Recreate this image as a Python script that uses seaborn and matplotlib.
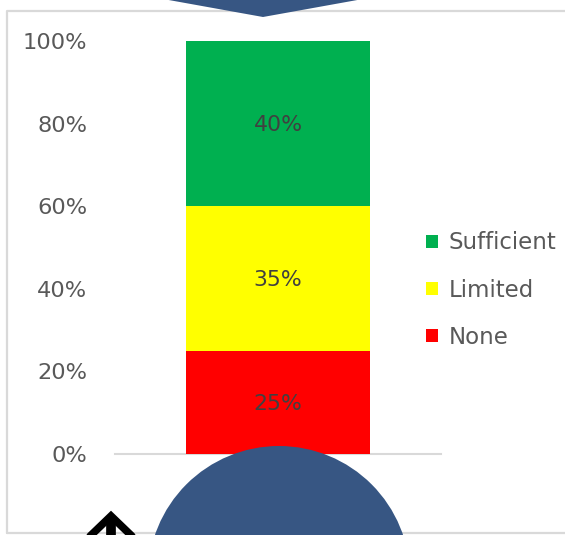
import matplotlib
matplotlib.use("Agg")
import matplotlib.pyplot as plt
from matplotlib.patches import Polygon, Circle
from matplotlib.lines import Line2D
from matplotlib.patches import Patch
import seaborn as sns
import pandas as pd
import numpy as np

# ---- data ----
categories = ["None", "Limited", "Sufficient"]
values = [0.25, 0.35, 0.40]
colors = ["#FF0000", "#FFFF00", "#00B050"]
yticks = [0.0, 0.2, 0.4, 0.6, 0.8, 1.0]
ytick_labels = ["0%", "20%", "40%", "60%", "80%", "100%"]
label_texts = ["25%", "35%", "40%"]

sns.set_theme(style="white")
plt.rcParams["font.family"] = ["DejaVu Sans"]

W, H = 565, 535
fig = plt.figure(figsize=(W / 100, H / 100), dpi=100)
fig.patch.set_facecolor("white")

def fx(px):
    return px / W

def fy(py):
    return 1 - py / H

ax_left, ax_right, ax_top, ax_bottom = 115, 441, 41, 454
ax = fig.add_axes([fx(ax_left), fy(ax_bottom), fx(ax_right - ax_left), (ax_bottom - ax_top) / H])

cum = np.cumsum(values)
# draw stacked bars from the tallest cumulative down
for i in range(len(values) - 1, -1, -1):
    df = pd.DataFrame({"g": ["All"], "v": [cum[i]]})
    sns.barplot(data=df, x="g", y="v", color=colors[i], width=0.567,
                saturation=1, ax=ax, zorder=2, linewidth=0)

bottoms = np.concatenate([[0], cum[:-1]])
for i, v in enumerate(values):
    ax.text(0, bottoms[i] + v / 2 - 0.004, label_texts[i], ha="center", va="center",
            fontsize=15.8, color="#404040", zorder=3)

ax.set_xlim(-0.5, 0.5)
ax.set_ylim(0, 1)
ax.set_yticks(yticks)
ax.set_yticklabels(ytick_labels, fontsize=16.2, color="#595959")
ax.tick_params(axis="y", length=0, pad=20)
ax.set_xticks([])
ax.set_xlabel("")
ax.set_ylabel("")
for s in ["top", "right", "left"]:
    ax.spines[s].set_visible(False)
ax.spines["bottom"].set_color("#D9D9D9")
ax.spines["bottom"].set_linewidth(1.5)
ax.spines["bottom"].set_zorder(1)
ax.patch.set_alpha(0)

# legend (Sufficient on top)
handles = [Patch(facecolor=colors[i], edgecolor="none", label=categories[i])
           for i in range(len(categories) - 1, -1, -1)]
leg = fig.legend(handles=handles, loc="upper left",
                 bbox_to_anchor=(fx(408), fy(213)), frameon=False,
                 fontsize=16.5, labelcolor="#595959",
                 handlelength=0.52, handleheight=0.52, handletextpad=0.45,
                 labelspacing=1.06, borderpad=0.3)

# chart border
tr = fig.dpi_scale_trans
fig.add_artist(Line2D([7 / 100, 7 / 100, 600 / 100], [(H - 533) / 100, (H - 11) / 100, (H - 11) / 100],
                      transform=tr, color="#D9D9D9", linewidth=1.6, zorder=5))
fig.add_artist(Line2D([7 / 100, 600 / 100], [(H - 533) / 100, (H - 533) / 100],
                      transform=tr, color="#D9D9D9", linewidth=1.6, zorder=5))

shape_blue = "#375683"
# top triangle
tri = Polygon([[152 / 100, (H + 3) / 100], [263 / 100, (H - 17) / 100], [374 / 100, (H + 3) / 100]],
              closed=True, transform=tr, facecolor=shape_blue, edgecolor="none", zorder=10)
fig.add_artist(tri)

# bottom circle
circ = Circle((279 / 100, (H - 577) / 100), 131 / 100, transform=tr,
              facecolor=shape_blue, edgecolor="none", zorder=10)
fig.add_artist(circ)

# arrow outline bottom-left
fig.add_artist(Line2D([85 / 100, 111 / 100, 137 / 100], [(H - 541) / 100, (H - 516) / 100, (H - 541) / 100],
                      transform=tr, color="black", linewidth=5.5, solid_joinstyle="miter", zorder=11))
fig.add_artist(Line2D([111 / 100, 111 / 100], [(H - 525) / 100, (H - 545) / 100],
                      transform=tr, color="black", linewidth=7, zorder=11))

fig.savefig("out.png", dpi=100)
